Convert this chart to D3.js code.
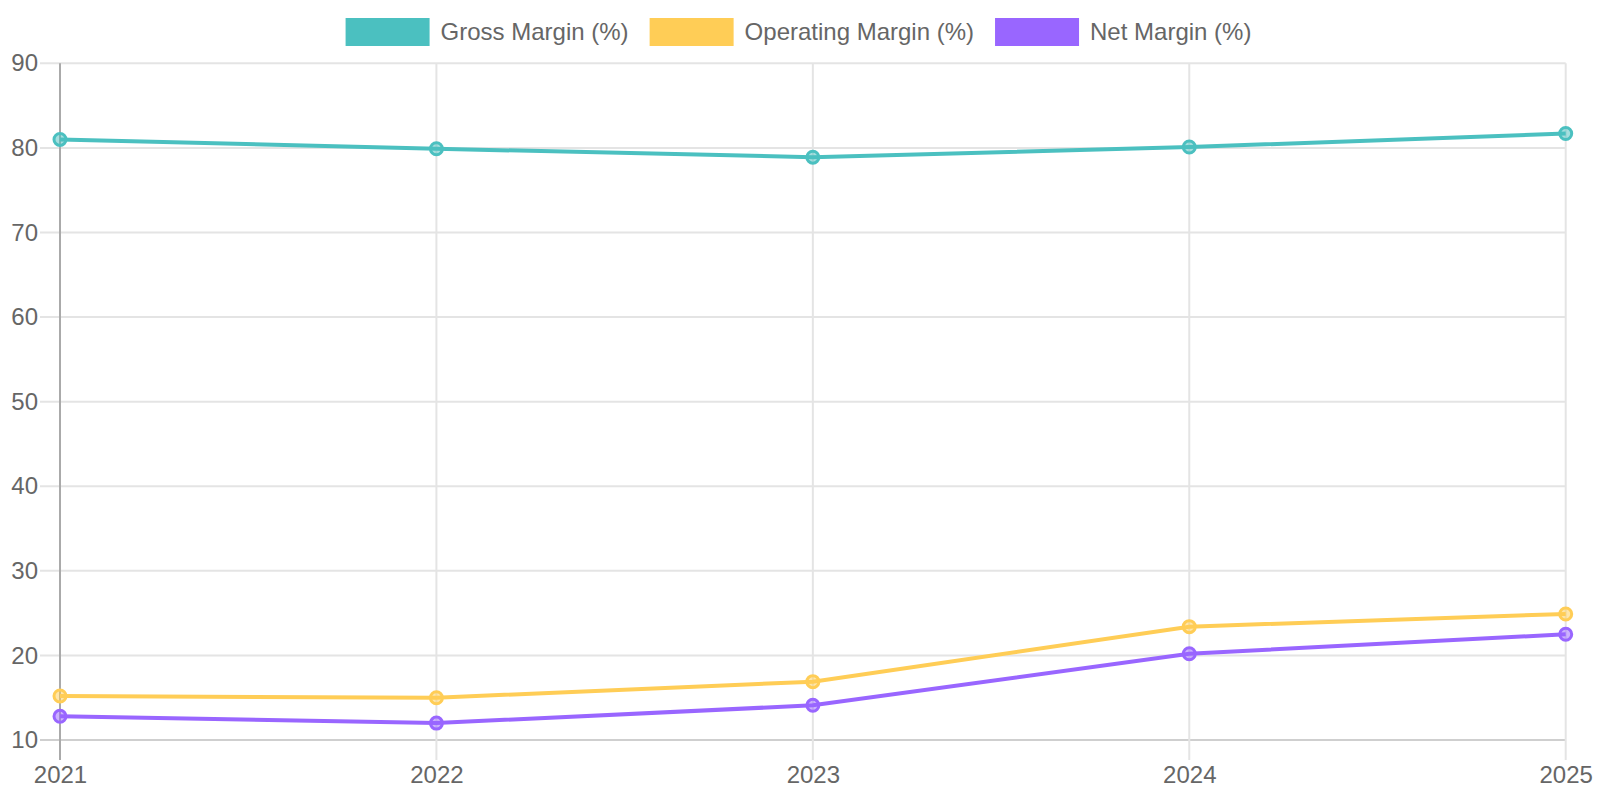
<!DOCTYPE html>
<html>
<head>
<meta charset="utf-8" />
<style>
body {
	margin:0;
	background:#fff;
}
svg text {
	font-family: "Liberation Sans", Arial, Helvetica, sans-serif;
	fill:#666;
}
</style>
</head>
<body>
<svg id="chart" width="1600" height="800" xmlns="http://www.w3.org/2000/svg"></svg>
<script src="https://cdn.jsdelivr.net/npm/d3@7"></script>
<script>

var years = ["2021", "2022", "2023", "2024", "2025"];
var grossMargin = [81.0, 79.9, 78.9, 80.1, 81.7];
var operatingMargin = [15.2, 15.0, 16.9, 23.4, 24.9];
var netMargin = [12.8, 12.0, 14.1, 20.2, 22.5];
var yTicks = [10, 20, 30, 40, 50, 60, 70, 80, 90];

var series = [
	{name:"Gross Margin (%)", values:grossMargin, color:"#4bc0c0"},
	{name:"Operating Margin (%)", values:operatingMargin, color:"#ffcd56"},
	{name:"Net Margin (%)", values:netMargin, color:"#9966ff"}
];

var svg = d3.select("#chart");
// note: "top" is a reserved window property, so plot edges get own names
var plotLeft = 60, plotRight = 1565.7, plotTop = 63.3, plotBottom = 740;

var x = d3.scalePoint().domain(years).range([plotLeft, plotRight]);
var y = d3.scaleLinear().domain([10, 90]).range([plotBottom, plotTop]);

// grid
var grid = svg.append("g");
grid.selectAll("line.h")
	.data(yTicks)
	.enter().append("line")
	.attr("x1", plotLeft - 20)
	.attr("x2", plotRight)
	.attr("y1", function(d) { return y(d); })
	.attr("y2", function(d) { return y(d); })
	.attr("stroke", function(d) { return d == 10 ? "#cfcfcf" : "#e4e4e4"; })
	.attr("stroke-width", 2);

grid.selectAll("line.v")
	.data(years)
	.enter().append("line")
	.attr("x1", function(d) { return x(d); })
	.attr("x2", function(d) { return x(d); })
	.attr("y1", plotTop)
	.attr("y2", plotBottom + 20)
	.attr("stroke", function(d, i) { return i == 0 ? "#aaaaaa" : "#e4e4e4"; })
	.attr("stroke-width", 2);

// axes labels
var yAxis = d3.axisLeft(y).tickValues(yTicks).tickSize(0).tickPadding(22);
var ya = svg.append("g").attr("transform", "translate(" + plotLeft + ",0)").call(yAxis);
ya.select(".domain").remove();
ya.selectAll("text").attr("font-size", 24).attr("fill", "#666").attr("font-family", null);

var xAxis = d3.axisBottom(x).tickSize(0).tickPadding(26);
var xa = svg.append("g").attr("transform", "translate(0," + plotBottom + ")").call(xAxis);
xa.select(".domain").remove();
xa.selectAll("text").attr("font-size", 24).attr("fill", "#666").attr("font-family", null);

// lines
var line = d3.line()
	.x(function(d, i) { return x(years[i]); })
	.y(function(d) { return y(d); });

series.forEach(function(s) {
	svg.append("path")
		.datum(s.values)
		.attr("d", line)
		.attr("fill", "none")
		.attr("stroke", s.color)
		.attr("stroke-width", 4);
});

series.forEach(function(s) {
	var c = d3.color(s.color);
	c.opacity = 0.5;
	svg.append("g").selectAll("circle")
		.data(s.values)
		.enter().append("circle")
		.attr("cx", function(d, i) { return x(years[i]); })
		.attr("cy", function(d) { return y(d); })
		.attr("r", 6)
		.attr("fill", c.toString())
		.attr("stroke", s.color)
		.attr("stroke-width", 3);
});

// legend
var legend = svg.append("g");
var items = legend.selectAll("g")
	.data(series)
	.enter().append("g");
items.append("rect")
	.attr("width", 84)
	.attr("height", 28)
	.attr("y", 18)
	.attr("fill", function(d) { return d.color; });
items.append("text")
	.attr("x", 95)
	.attr("y", 40)
	.attr("font-size", 24)
	.text(function(d) { return d.name; });

var gap = 21;
var pos = 0;
items.each(function() {
	var w = 95 + d3.select(this).select("text").node().getComputedTextLength();
	d3.select(this).attr("transform", "translate(" + pos + ",0)");
	pos += w + gap;
});
var total = pos - gap;
legend.attr("transform", "translate(" + (798.5 - total / 2) + ",0)");

</script>
</body>
</html>
